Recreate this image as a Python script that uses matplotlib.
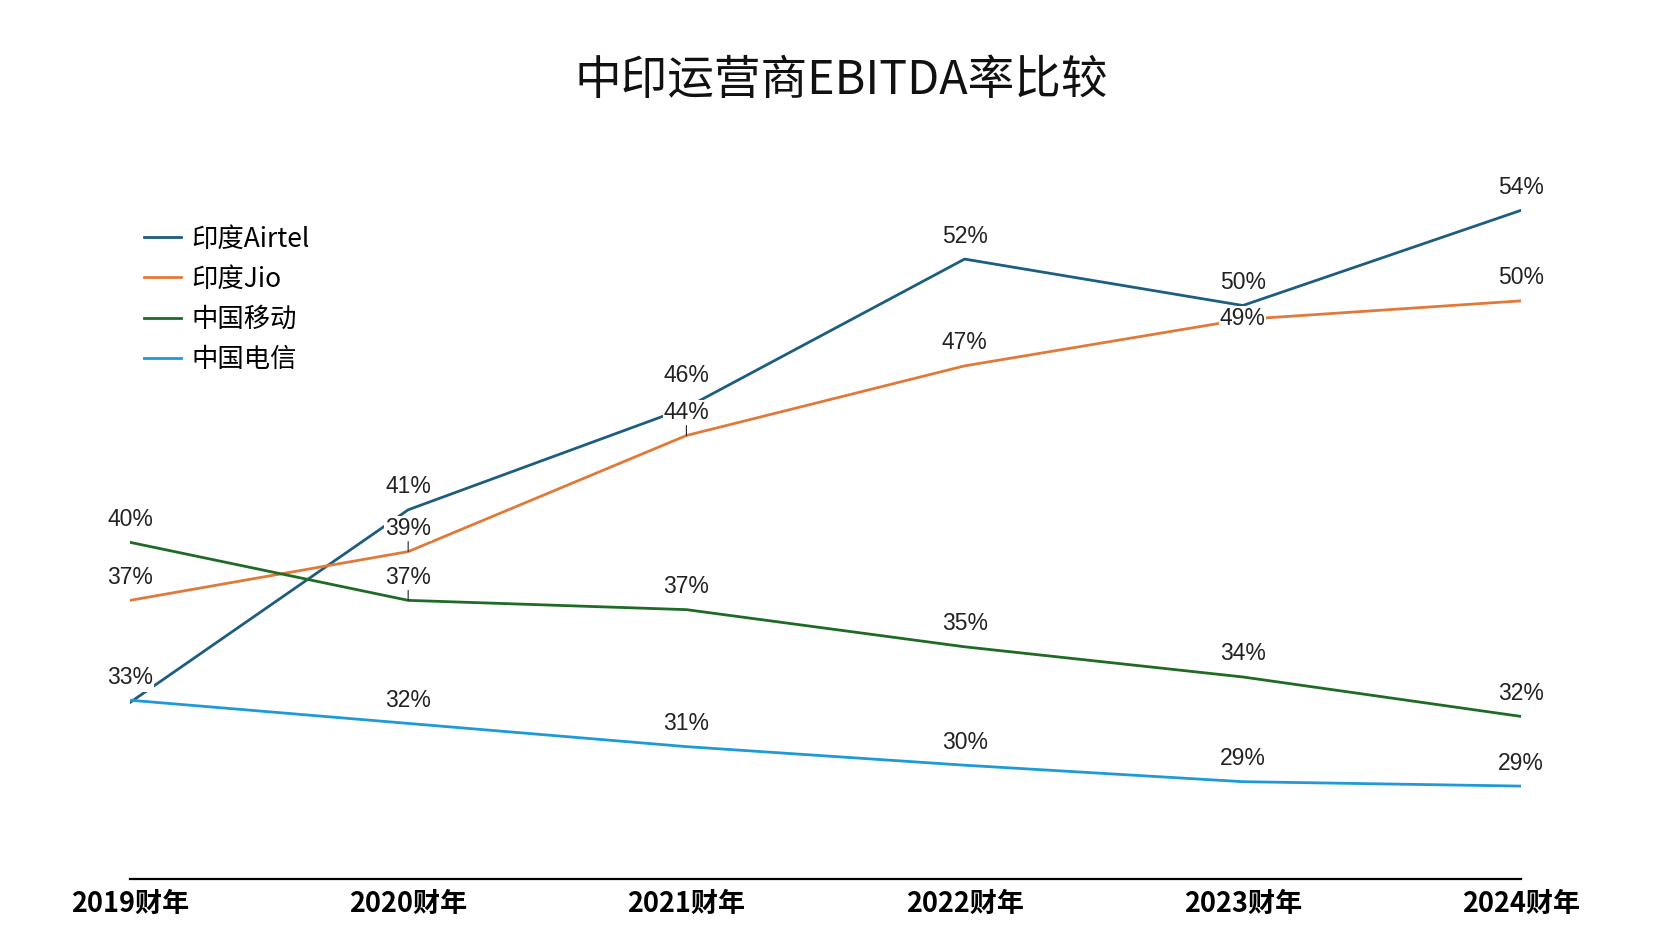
import matplotlib
matplotlib.use("Agg")
import matplotlib.pyplot as plt

plt.rcParams["font.family"] = ["Noto Sans CJK SC", "DejaVu Sans"]

# 数据
years = ["2019财年", "2020财年", "2021财年", "2022财年", "2023财年", "2024财年"]
airtel = [32.9, 41.2, 45.6, 52.0, 50.0, 54.1]
jio = [37.3, 39.4, 44.4, 47.4, 49.4, 50.2]
cmcc = [39.8, 37.3, 36.9, 35.3, 34.0, 32.3]
ctel = [33.0, 32.0, 31.0, 30.2, 29.49, 29.3]

series = [
    ("印度Airtel", airtel, "#1d5e80"),
    ("印度Jio", jio, "#e07a3a"),
    ("中国移动", cmcc, "#1f6b26"),
    ("中国电信", ctel, "#1e9bd6"),
]

# 标签下方带引导线的点 (系列序号, 年份序号)
leader_points = [(1, 1), (2, 1), (1, 2)]
# 为避免重叠而挪动的标签 (系列序号, 年份序号) -> 像素偏移
label_shift = {(0, 2): 32, (1, 4): 1}

fig = plt.figure(figsize=(16.66, 9.49), dpi=100)
ax = fig.add_axes([0.078, 0.0738, 0.835, 0.80])

x = list(range(len(years)))
for name, vals, color in series:
    ax.plot(x, vals, color=color, linewidth=2.0, label=name, zorder=2,
            solid_joinstyle="round")

for si, (name, vals, color) in enumerate(series):
    for i, v in enumerate(vals):
        dy = label_shift.get((si, i), 23)
        ax.annotate(f"{v:.0f}%", (i, v), xytext=(0, dy),
                    textcoords="offset pixels", ha="center", va="center",
                    fontsize=16.5,
                    family=["Liberation Sans Narrow", "Liberation Sans"],
                    color="#222222", zorder=4,
                    bbox=dict(facecolor="white", edgecolor="none", pad=0.5))

for si, i in leader_points:
    v = series[si][1][i]
    ax.annotate("", (i, v), xytext=(0, 10), textcoords="offset pixels",
                arrowprops=dict(arrowstyle="-", color="#222222", lw=0.8,
                                shrinkA=0, shrinkB=0), zorder=3)

ax.set_xlim(0, 5)
ax.set_ylim(25.3, 58)
ax.set_xticks(x)
ax.set_xticklabels(years, fontsize=19.5, fontweight="bold")
ax.tick_params(axis="x", length=0, pad=8)
ax.set_yticks([])
for side in ["left", "right", "top"]:
    ax.spines[side].set_visible(False)
ax.spines["bottom"].set_linewidth(1.6)
ax.spines["bottom"].set_color("black")

ax.legend(loc="upper left", bbox_to_anchor=(0.080, 0.7735),
          bbox_transform=fig.transFigure, frameon=False, fontsize=19,
          handlelength=1.4, handletextpad=0.39, labelspacing=0.50,
          borderaxespad=0)

fig.text(0.505, 1 - 81 / 949, "中印运营商EBITDA率比较", ha="center",
         va="center", fontsize=33.6, color="#111111")

fig.savefig("out.png", dpi=100)
